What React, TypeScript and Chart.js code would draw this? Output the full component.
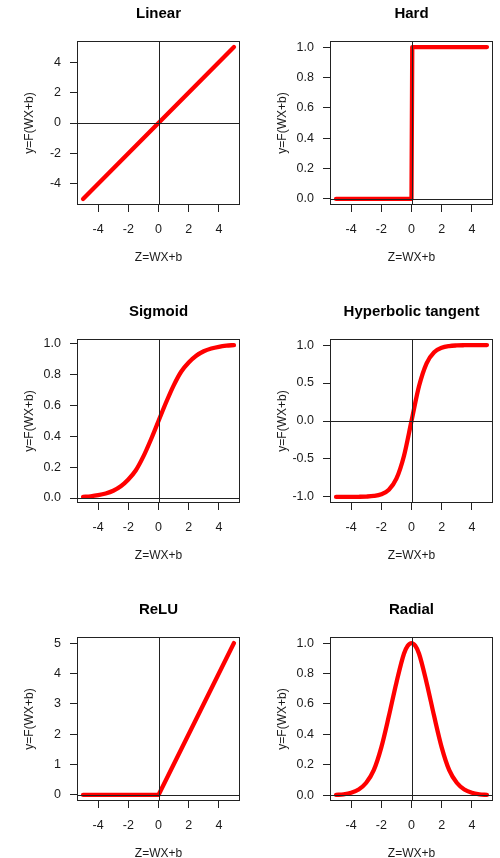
import React, { useEffect, useRef } from "react";
import { Chart, registerables } from "chart.js";

Chart.register(...registerables);

// ---------- data ----------
const X_TICKS = [-4, -2, 0, 2, 4];
const X_TICK_LABELS = ["-4", "-2", "0", "2", "4"];

const curveX = [-5, -4.5, -4, -3.5, -3, -2.5, -2, -1.5, -1, -0.5, 0, 0.5, 1, 1.5, 2, 2.5, 3, 3.5, 4, 4.5, 5];

const linearX = [-5, 5];
const linearY = [-5, 5];

const hardX = [-5, 0, 0.05, 5];
const hardY = [0, 0, 1, 1];

const sigmoidY = [0.007, 0.011, 0.018, 0.029, 0.047, 0.076, 0.12, 0.18, 0.27, 0.38, 0.5, 0.62, 0.73, 0.82, 0.88, 0.924, 0.953, 0.971, 0.982, 0.989, 0.993];

const tanhY = [-0.9999, -0.9998, -0.9993, -0.998, -0.995, -0.987, -0.964, -0.905, -0.76, -0.46, 0, 0.46, 0.76, 0.905, 0.964, 0.987, 0.995, 0.998, 0.9993, 0.9998, 0.9999];

const reluX = [-5, 0, 5];
const reluY = [0, 0, 5];

const radialX = [-5, -4.5, -4, -3.5, -3, -2.5, -2, -1.5, -1, -0.5, -0.25, 0, 0.25, 0.5, 1, 1.5, 2, 2.5, 3, 3.5, 4, 4.5, 5];
const radialY = [0.002, 0.006, 0.016, 0.038, 0.082, 0.165, 0.315, 0.52, 0.74, 0.93, 0.982, 1.0, 0.982, 0.93, 0.74, 0.52, 0.315, 0.165, 0.082, 0.038, 0.016, 0.006, 0.002];

const UNIT_TICKS = [0, 0.2, 0.4, 0.6, 0.8, 1.0];
const UNIT_TICK_LABELS = ["0.0", "0.2", "0.4", "0.6", "0.8", "1.0"];
const LINEAR_TICKS = [-4, -2, 0, 2, 4];
const LINEAR_TICK_LABELS = ["-4", "-2", "0", "2", "4"];
const TANH_TICKS = [-1, -0.5, 0, 0.5, 1];
const TANH_TICK_LABELS = ["-1.0", "-0.5", "0.0", "0.5", "1.0"];
const RELU_TICKS = [0, 1, 2, 3, 4, 5];
const RELU_TICK_LABELS = ["0", "1", "2", "3", "4", "5"];

const TITLES = ["Linear", "Hard", "Sigmoid", "Hyperbolic tangent", "ReLU", "Radial"];
const X_LABEL = "Z=WX+b";
const Y_LABEL = "y=F(WX+b)";

type Panel = {
  title: string;
  xs: number[];
  ys: number[];
  yTicks: number[];
  yLabels: string[];
  smooth: boolean;
};

const PANELS: Panel[] = [
  { title: TITLES[0], xs: linearX, ys: linearY, yTicks: LINEAR_TICKS, yLabels: LINEAR_TICK_LABELS, smooth: false },
  { title: TITLES[1], xs: hardX, ys: hardY, yTicks: UNIT_TICKS, yLabels: UNIT_TICK_LABELS, smooth: false },
  { title: TITLES[2], xs: curveX, ys: sigmoidY, yTicks: UNIT_TICKS, yLabels: UNIT_TICK_LABELS, smooth: true },
  { title: TITLES[3], xs: curveX, ys: tanhY, yTicks: TANH_TICKS, yLabels: TANH_TICK_LABELS, smooth: true },
  { title: TITLES[4], xs: reluX, ys: reluY, yTicks: RELU_TICKS, yLabels: RELU_TICK_LABELS, smooth: false },
  { title: TITLES[5], xs: radialX, ys: radialY, yTicks: UNIT_TICKS, yLabels: UNIT_TICK_LABELS, smooth: true },
];

// ---------- layout ----------
const PANEL_W = 250;
const PANEL_H = 298;
const FONT = '"Liberation Sans", Arial, Helvetica, sans-serif';
const TEXT = "#1a1a1a";
const LINE = "#222222";

const framePlugin = {
  id: "frame",
  afterDatasetsDraw(chart: any) {
    const { ctx, chartArea: a, scales } = chart;
    ctx.save();
    ctx.strokeStyle = LINE;
    ctx.lineWidth = 1;
    const x0 = Math.round(scales.x.getPixelForValue(0)) + 0.5;
    const y0 = Math.round(scales.y.getPixelForValue(0)) + 0.5;
    ctx.beginPath();
    ctx.moveTo(a.left, y0);
    ctx.lineTo(a.right, y0);
    ctx.moveTo(x0, a.top);
    ctx.lineTo(x0, a.bottom);
    ctx.stroke();
    const l = Math.round(a.left) + 0.5;
    const t = Math.round(a.top) + 0.5;
    const r = Math.round(a.right) - 0.5;
    const b = Math.round(a.bottom) - 0.5;
    ctx.strokeRect(l, t, r - l, b - t);
    ctx.restore();
  },
};

function padRange(vals: number[]) {
  const lo = Math.min(...vals);
  const hi = Math.max(...vals);
  const d = (hi - lo) * 0.04;
  return [lo - d, hi + d];
}

function PanelChart({ panel, col }: { panel: Panel; col: number }) {
  const ref = useRef<HTMLCanvasElement | null>(null);
  useEffect(() => {
    if (!ref.current) return;
    const [xmin, xmax] = padRange(panel.xs);
    const [ymin, ymax] = padRange(panel.ys);
    const boxLeft = col === 0 ? 77 : 80;
    const rightPad = col === 0 ? 10 : 7;
    const yTitleCenter = boxLeft - 47;
    const tickFont = { family: FONT, size: 12.5, lineHeight: 1.2 };
    const labFont = { family: FONT, size: 12, lineHeight: 1.2 };
    const chart = new Chart(ref.current, {
      type: "scatter",
      data: {
        datasets: [
          {
            data: panel.xs.map((x, i) => ({ x, y: panel.ys[i] })),
            showLine: true,
            borderColor: "#ff0000",
            backgroundColor: "#ff0000",
            borderWidth: 4.3,
            pointRadius: 0,
            borderCapStyle: "round",
            borderJoinStyle: "round",
            cubicInterpolationMode: panel.smooth ? "monotone" : "default",
            tension: 0,
            fill: false,
          } as any,
        ],
      },
      options: {
        animation: false,
        responsive: false,
        devicePixelRatio: 1,
        events: [],
        layout: { padding: { left: 0, right: rightPad, top: 0, bottom: 0 } },
        plugins: {
          legend: { display: false },
          tooltip: { enabled: false },
          title: {
            display: true,
            text: panel.title,
            fullSize: false,
            color: "#000",
            font: { family: FONT, size: 15, weight: "bold", lineHeight: 1.2 },
            padding: { top: 5, bottom: 18 },
          },
        },
        scales: {
          x: {
            type: "linear",
            min: xmin,
            max: xmax,
            afterBuildTicks: (s: any) => {
              s.ticks = X_TICKS.map((v) => ({ value: v }));
            },
            afterFit: (s: any) => {
              s.height = 93;
            },
            grid: { drawOnChartArea: false, drawTicks: true, tickLength: 7, color: LINE, tickColor: LINE },
            border: { display: false },
            ticks: {
              padding: 10.5,
              autoSkip: false,
              maxRotation: 0,
              color: TEXT,
              font: tickFont,
              callback: (v: any) => X_TICK_LABELS[X_TICKS.indexOf(Number(v))] ?? "",
            },
            title: {
              display: true,
              text: X_LABEL,
              color: TEXT,
              font: labFont,
              padding: { top: 0, bottom: 33.5 },
            },
          },
          y: {
            type: "linear",
            min: ymin,
            max: ymax,
            afterBuildTicks: (s: any) => {
              s.ticks = panel.yTicks.map((v) => ({ value: v }));
            },
            afterFit: (s: any) => {
              s.width = boxLeft;
            },
            grid: { drawOnChartArea: false, drawTicks: true, tickLength: 7, color: LINE, tickColor: LINE },
            border: { display: false },
            ticks: {
              padding: 9,
              autoSkip: false,
              color: TEXT,
              font: tickFont,
              callback: (v: any) => {
                const i = panel.yTicks.findIndex((t) => Math.abs(t - Number(v)) < 1e-9);
                return i >= 0 ? panel.yLabels[i] : "";
              },
            },
            title: {
              display: true,
              text: Y_LABEL,
              color: TEXT,
              font: labFont,
              padding: { top: yTitleCenter - 7.2, bottom: 0 },
            },
          },
        },
      },
      plugins: [framePlugin],
    } as any);
    return () => chart.destroy();
  }, [panel, col]);
  return <canvas ref={ref} width={PANEL_W} height={PANEL_H} style={{ display: "block", width: PANEL_W, height: PANEL_H }} />;
}

export default function App() {
  return (
    <div style={{ position: "absolute", left: 0, top: 0, width: 500, height: 858, overflow: "hidden", background: "#fff" }}>
      {PANELS.map((p, i) => {
        const col = i % 2;
        const row = Math.floor(i / 2);
        return (
          <div key={p.title} style={{ position: "absolute", left: col * PANEL_W, top: row * PANEL_H, width: PANEL_W, height: PANEL_H }}>
            <PanelChart panel={p} col={col} />
          </div>
        );
      })}
    </div>
  );
}
